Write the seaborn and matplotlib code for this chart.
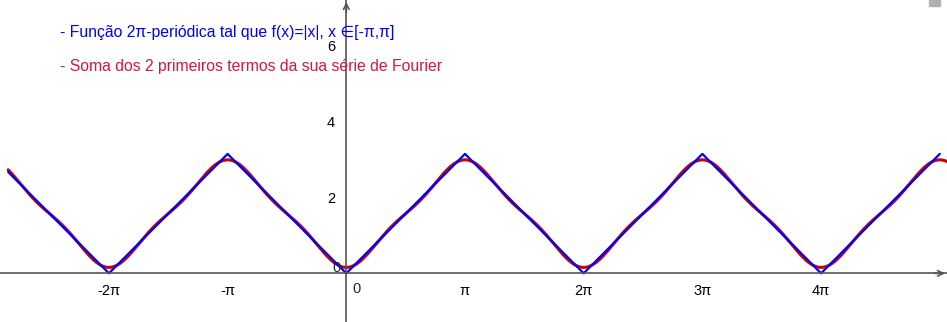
import matplotlib.pyplot as plt
import seaborn as sns
import pandas as pd
import numpy as np
from matplotlib.patches import Rectangle

sns.set_style("white")
plt.rcParams['font.family'] = ['Liberation Sans', 'DejaVu Sans']

# Triangle wave f(x)=|x| on [-pi, pi], 2pi-periodic: vertices (in units of pi)
vertex_x_pi = [-3, -2, -1, 0, 1, 2, 3, 4, 5]
vertex_y_pi = [1, 0, 1, 0, 1, 0, 1, 0, 1]

# Fourier series: pi/2 - 4/pi * sum cos(n x)/n^2 (odd n); first 2 cosine terms
fourier_const = np.pi / 2
fourier_harmonics = [1, 3]
fourier_coefs = [-4 / np.pi, -4 / (9 * np.pi)]

x_ticks_pi = [-2, -1, 1, 2, 3, 4]
x_tick_labels = ["-2π", "-π", "π", "2π", "3π", "4π"]
y_ticks = [2, 4, 6]

xmin, xmax = -9.166, 15.90
ymin, ymax = -1.28, 7.19
curve_start = -8.95

blue_df = pd.DataFrame({"x": np.array(vertex_x_pi) * np.pi,
                        "y": np.array(vertex_y_pi) * np.pi})
blue_df = blue_df[blue_df["x"] >= -2 * np.pi]
# first segment begins at the left edge of the drawn curve
blue_df = pd.concat([pd.DataFrame({"x": [curve_start], "y": [-2 * np.pi - curve_start]}), blue_df])

xs = np.linspace(curve_start, xmax + 0.1, 2000)
ys = fourier_const + sum(c * np.cos(n * xs) for n, c in zip(fourier_harmonics, fourier_coefs))
red_df = pd.DataFrame({"x": xs, "y": ys})

fig = plt.figure(figsize=(9.47, 3.22), dpi=100)
ax = fig.add_axes([0, 0, 1, 1])

axis_color = "#555555"
sns.lineplot(data=red_df, x="x", y="y", color="#cc0000", linewidth=2.2, ax=ax, sort=False)
sns.lineplot(data=blue_df, x="x", y="y", color="#0000ff", linewidth=1.6, ax=ax, sort=False)

ax.set_xlim(xmin, xmax)
ax.set_ylim(ymin, ymax)

# axes through origin
for s in ["top", "right"]:
    ax.spines[s].set_visible(False)
ax.spines["left"].set_position(("data", 0))
ax.spines["bottom"].set_position(("data", 0))
for s in ["left", "bottom"]:
    ax.spines[s].set_color(axis_color)
    ax.spines[s].set_linewidth(1.2)

ax.set_xticks(np.array(x_ticks_pi) * np.pi)
ax.set_xticklabels(x_tick_labels)
ax.set_yticks(y_ticks)
ax.tick_params(axis="both", direction="out", length=4, width=1, color=axis_color,
               labelsize=10.5, labelcolor="black", pad=4)
ax.text(0.15, -0.22, "0", fontsize=10.5, ha="left", va="top")
ax.text(-0.15, 0.15, "0", fontsize=10.5, ha="right", va="center")
ax.set_xlabel("")
ax.set_ylabel("")

# arrows at axis ends
ax.annotate("", xy=(0, ymax + 0.02), xytext=(0, ymax - 0.4),
            arrowprops=dict(arrowstyle="->", color=axis_color, lw=1.2), annotation_clip=False)
ax.annotate("", xy=(xmax + 0.02, 0), xytext=(xmax - 0.4, 0),
            arrowprops=dict(arrowstyle="->", color=axis_color, lw=1.2), annotation_clip=False)

fig.text(60 / 947, 1 - 33 / 322, "- Função 2π-periódica tal que f(x)=|x|, x ∈[-π,π]",
         color="#0000ff", fontsize=11.3, va="center", ha="left")
fig.text(60 / 947, 1 - 67 / 322, "- Soma dos 2 primeiros termos da sua série de Fourier",
         color="#dc143c", fontsize=11.3, va="center", ha="left")

# small grey corner mark at the top right
fig.patches.append(Rectangle((929 / 947, 1 - 6 / 322), 11 / 947, 6 / 322,
                             transform=fig.transFigure, color="#b0b0b0", zorder=5))

fig.savefig("out.png", dpi=100)
